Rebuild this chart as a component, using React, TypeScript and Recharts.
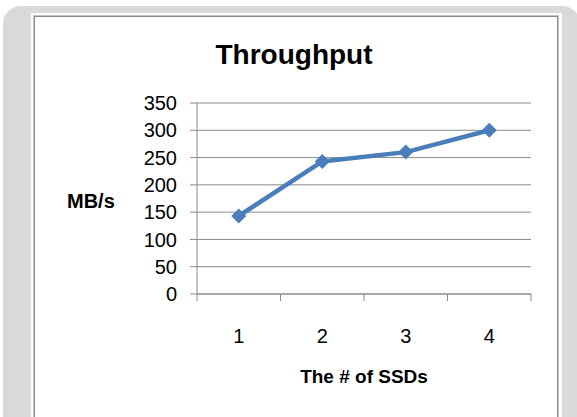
import React from 'react';
import { LineChart, Line, XAxis, YAxis, CartesianGrid, Label } from 'recharts';

// Throughput (MB/s) by number of SSDs
const categories = ['1', '2', '3', '4'];
const throughput = [143, 243, 260, 300];
const yTicks = [0, 50, 100, 150, 200, 250, 300, 350];

const BLUE = '#4a7ebb';
const GRID = '#8a8a8a';
const FONT = '"Liberation Sans", Arial, sans-serif';

const data = categories.map((c, i) => ({ ssd: i + 1, label: c, mbps: throughput[i] }));
// category centres get labels, the half-steps between them get tick marks (Excel style)
const xTicks = [0.5, ...categories.flatMap((_, i) => [i + 1, i + 1.5])];

const SsdTick = (props: any) => {
  const { x, y, payload } = props;
  const v = payload.value;
  if (Number.isInteger(v)) {
    return (
      <text x={x} y={y + 42} textAnchor="middle" fontSize={20} fill="#000">
        {categories[v - 1]}
      </text>
    );
  }
  return <line x1={x} x2={x} y1={y - 7} y2={y} stroke={GRID} />;
};

const Diamond = (props: any) => {
  const { cx, cy } = props;
  if (cx == null || cy == null) return <g />;
  const r = 7.5;
  return (
    <path
      d={`M${cx},${cy - r}L${cx + r},${cy}L${cx},${cy + r}L${cx - r},${cy}Z`}
      fill={BLUE}
    />
  );
};

export default function App() {
  return (
    <div
      style={{
        position: 'absolute',
        left: 0,
        top: 0,
        width: 577,
        height: 417,
        overflow: 'hidden',
        background: '#fff',
        fontFamily: FONT,
      }}
    >
      <div
        style={{
          position: 'absolute',
          left: 3,
          top: 6,
          width: 577,
          height: 460,
          borderRadius: 18,
          background: '#d9d9d9',
        }}
      />
      <div
        style={{
          position: 'absolute',
          left: 31,
          top: 13,
          width: 531,
          height: 440,
          background: '#fff',
        }}
      />
      <div
        style={{
          position: 'absolute',
          left: 33,
          top: 15,
          width: 524,
          height: 440,
          border: '1px solid #c4c4c4',
          boxShadow: 'inset 0 0 0 1px #8c8c8c',
          background: '#fff',
        }}
      />
      <div
        style={{
          position: 'absolute',
          left: 194,
          top: 41,
          width: 200,
          textAlign: 'center',
          fontSize: 28,
          lineHeight: '28px',
          fontWeight: 'bold',
          color: '#000',
        }}
      >
        Throughput
      </div>
      <div style={{ position: 'absolute', left: 0, top: 0 }}>
        <LineChart
          width={577}
          height={417}
          data={data}
          margin={{ top: 103, right: 46, bottom: 0, left: 0 }}
        >
          <CartesianGrid vertical={false} stroke={GRID} />
          <XAxis
            dataKey="ssd"
            type="number"
            domain={[0.5, 4.5]}
            ticks={xTicks}
            interval={0}
            tick={SsdTick}
            tickLine={false}
            tickSize={7}
            tickMargin={0}
            axisLine={{ stroke: GRID }}
            height={123}
          >
            <Label
              value="The # of SSDs"
              position="insideTop"
              offset={76}
              fontSize={19}
              fontWeight="bold"
              fill="#000"
            />
          </XAxis>
          <YAxis
            domain={[0, 350]}
            ticks={yTicks}
            interval={0}
            width={197}
            tickSize={7}
            tickMargin={13}
            tick={{ fontSize: 20, fill: '#000' }}
            tickLine={{ stroke: GRID }}
            axisLine={{ stroke: GRID }}
          >
            <Label
              value="MB/s"
              position="insideLeft"
              offset={67}
              dy={2}
              fontSize={20}
              fontWeight="bold"
              fill="#000"
            />
          </YAxis>
          <Line
            dataKey="mbps"
            stroke={BLUE}
            strokeWidth={4.5}
            dot={Diamond}
            activeDot={false}
            isAnimationActive={false}
          />
        </LineChart>
      </div>
    </div>
  );
}
